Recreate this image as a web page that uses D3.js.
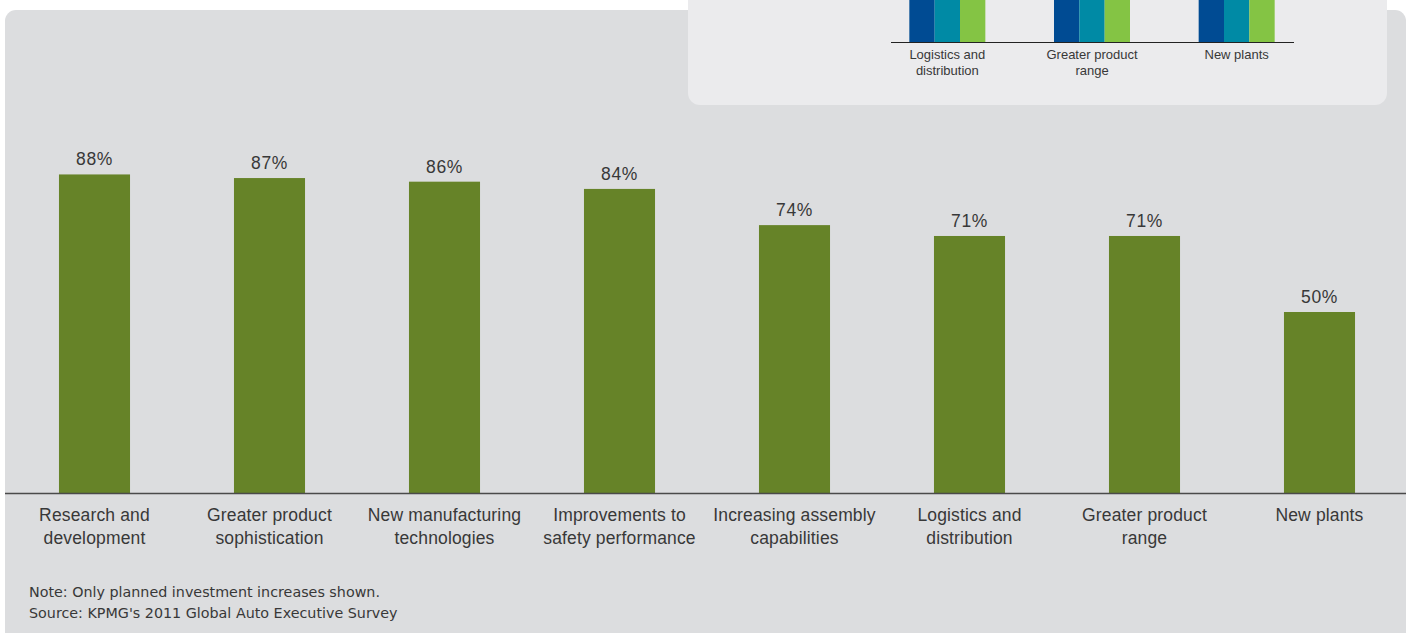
<!DOCTYPE html>
<html>
<head>
<meta charset="utf-8">
<script src="https://cdn.jsdelivr.net/npm/d3@7/dist/d3.min.js"></script>
<style>
  html, body { margin: 0; padding: 0; background: #ffffff; }
  svg { display: block; font-family: "Liberation Sans", Arial, sans-serif; }
</style>
</head>
<body>
<svg id="chart" width="1411" height="633"></svg>
<script>
// Main chart: share of executives planning investment increases
const categories = [
  ["Research and", "development"],
  ["Greater product", "sophistication"],
  ["New manufacturing", "technologies"],
  ["Improvements to", "safety performance"],
  ["Increasing assembly", "capabilities"],
  ["Logistics and", "distribution"],
  ["Greater product", "range"],
  ["New plants"]
];
const values = [88, 87, 86, 84, 74, 71, 71, 50];

// Inset panel: clipped grouped bars continuing from the panel above
const insetCategories = [
  ["Logistics and", "distribution"],
  ["Greater product", "range"],
  ["New plants"]
];
const insetSeries = ["s1", "s2", "s3"];
const insetValues = [
  [62, 58, 71],
  [60, 57, 71],
  [45, 41, 50]
];

const notes = [
  "Note: Only planned investment increases shown.",
  "Source: KPMG's 2011 Global Auto Executive Survey"
];

const svg = d3.select("#chart");

// Outer grey panel
svg.append("rect")
  .attr("x", 5).attr("y", 10)
  .attr("width", 1401).attr("height", 640)
  .attr("rx", 11).attr("ry", 11)
  .attr("fill", "#dcdddf");

// Lighter inset panel
svg.append("rect")
  .attr("x", 688).attr("y", -30)
  .attr("width", 699).attr("height", 135)
  .attr("rx", 12).attr("ry", 12)
  .attr("fill", "#ebebed");

// ---- Inset grouped bars ----
const insetColors = d3.scaleOrdinal().domain(insetSeries).range(["#004b93", "#008aa5", "#84c444"]);
const ix = d3.scaleBand()
  .domain(d3.range(insetCategories.length))
  .range([875, 1309]);
const iy = d3.scaleLinear().domain([0, 40]).range([42, 0]);
const groupW = 76;
const isub = d3.scaleBand().domain(insetSeries).range([0, groupW]);

const ig = svg.append("g");
ig.selectAll("g.grp")
  .data(insetValues)
  .join("g")
  .attr("class", "grp")
  .attr("transform", (d, i) => `translate(${ix(i) + ix.bandwidth() / 2 - groupW / 2},0)`)
  .selectAll("rect")
  .data(d => d.map((v, j) => ({ key: insetSeries[j], v })))
  .join("rect")
  .attr("x", d => isub(d.key))
  .attr("width", isub.bandwidth())
  .attr("y", d => iy(d.v))
  .attr("height", d => iy(0) - iy(d.v))
  .attr("fill", d => insetColors(d.key));

ig.append("line")
  .attr("x1", 891).attr("x2", 1294)
  .attr("y1", iy(0) + 0.5).attr("y2", iy(0) + 0.5)
  .attr("stroke", "#222").attr("stroke-width", 1.2);

ig.selectAll("text.ilab")
  .data(insetCategories)
  .join("text")
  .attr("class", "ilab")
  .attr("x", (d, i) => ix(i) + ix.bandwidth() / 2)
  .attr("y", 59)
  .attr("text-anchor", "middle")
  .attr("font-size", 13)
  .attr("fill", "#383838")
  .each(function (d) {
    d3.select(this).selectAll("tspan")
      .data(d).join("tspan")
      .attr("x", d3.select(this).attr("x"))
      .attr("dy", (t, k) => k === 0 ? 0 : 16)
      .text(t => t);
  });

// ---- Main bars ----
const x = d3.scaleBand()
  .domain(d3.range(categories.length))
  .range([7, 1407])
  .paddingInner(0.594)
  .paddingOuter(0.297);
const y = d3.scaleLinear().domain([0, 100]).range([493, 131]);

const g = svg.append("g");
g.selectAll("rect.bar")
  .data(values)
  .join("rect")
  .attr("class", "bar")
  .attr("x", (d, i) => x(i))
  .attr("width", x.bandwidth())
  .attr("y", d => y(d))
  .attr("height", d => y(0) - y(d))
  .attr("fill", "#668328");

g.selectAll("text.val")
  .data(values)
  .join("text")
  .attr("class", "val")
  .attr("x", (d, i) => x(i) + x.bandwidth() / 2)
  .attr("y", d => y(d) - 9)
  .attr("text-anchor", "middle")
  .attr("font-size", 17.5)
  .attr("letter-spacing", 0.6)
  .attr("fill", "#383838")
  .text(d => d + "%");

// Baseline axis
const xAxis = d3.axisBottom(x).tickSize(0).tickFormat("");
const axisG = svg.append("g")
  .attr("transform", `translate(0,${y(0)})`)
  .call(xAxis);
axisG.select(".domain").remove();
axisG.append("line")
  .attr("x1", 5).attr("x2", 1406)
  .attr("y1", 0.5).attr("y2", 0.5)
  .attr("stroke", "#4a4a4a").attr("stroke-width", 1.3);

g.selectAll("text.cat")
  .data(categories)
  .join("text")
  .attr("class", "cat")
  .attr("x", (d, i) => x(i) + x.bandwidth() / 2)
  .attr("y", 521)
  .attr("text-anchor", "middle")
  .attr("font-size", 17.5)
  .attr("letter-spacing", 0.15)
  .attr("fill", "#383838")
  .each(function (d) {
    const tx = d3.select(this).attr("x");
    d3.select(this).selectAll("tspan")
      .data(d).join("tspan")
      .attr("x", tx)
      .attr("dy", (t, k) => k === 0 ? 0 : 23)
      .text(t => t);
  });

// Footnotes
svg.selectAll("text.note")
  .data(notes)
  .join("text")
  .attr("class", "note")
  .attr("x", 29)
  .attr("y", (d, i) => 597 + i * 21)
  .attr("font-family", "'DejaVu Sans', sans-serif")
  .attr("font-size", 14.3)
  .attr("fill", "#383838")
  .text(d => d);
</script>
</body>
</html>
